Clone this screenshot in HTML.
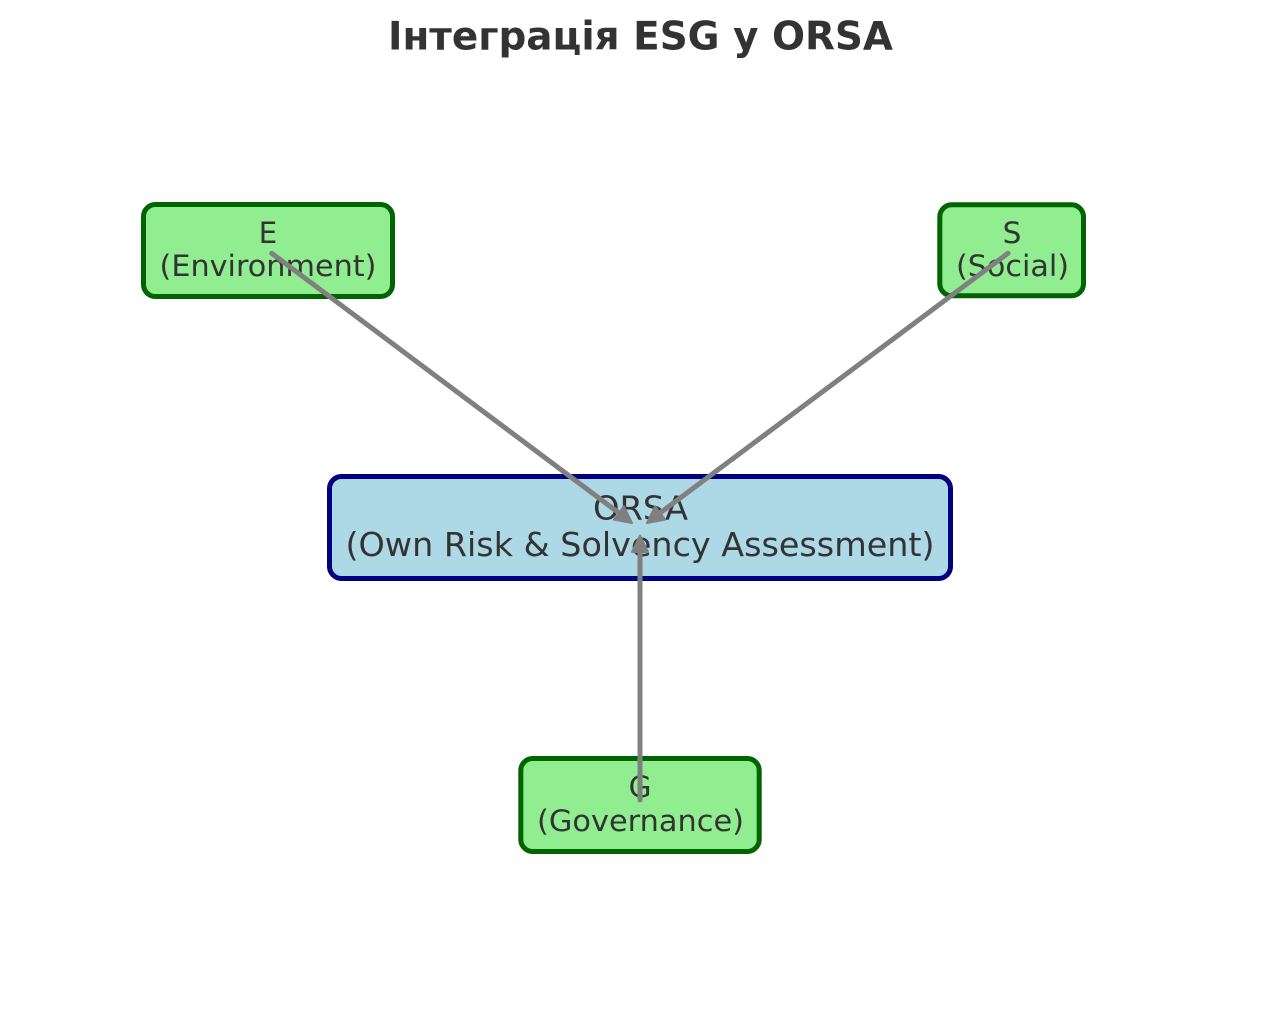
<!DOCTYPE html>
<html>
<head>
<meta charset="utf-8">
<style>
html,body{margin:0;padding:0;background:#ffffff;}
svg{display:block;}
text{font-family:"DejaVu Sans","Liberation Sans",sans-serif;fill:#333333;}
</style>
</head>
<body>
<svg width="1280" height="1010" viewBox="0 0 1280 1010" xmlns="http://www.w3.org/2000/svg">
  <rect x="0" y="0" width="1280" height="1010" fill="#ffffff"/>

  <!-- Title -->
  <text x="640.5" y="49.5" text-anchor="middle" font-size="39" font-weight="bold" textLength="505" lengthAdjust="spacingAndGlyphs">Інтеграція ESG у ORSA</text>

  <!-- E box -->
  <rect x="143.5" y="204.5" width="249" height="92" rx="12" ry="12" fill="#90EE90" stroke="#006400" stroke-width="5"/>
  <text x="268" y="243" text-anchor="middle" font-size="29.5">E</text>
  <text x="268" y="276" text-anchor="middle" font-size="29.5" textLength="217" lengthAdjust="spacingAndGlyphs">(Environment)</text>

  <!-- S box -->
  <rect x="939.8" y="204.8" width="143.7" height="91" rx="12" ry="12" fill="#90EE90" stroke="#006400" stroke-width="5"/>
  <text x="1012" y="243" text-anchor="middle" font-size="29.5">S</text>
  <text x="1012.5" y="276" text-anchor="middle" font-size="29.5" textLength="113" lengthAdjust="spacingAndGlyphs">(Social)</text>

  <!-- ORSA box -->
  <rect x="329.5" y="476.5" width="621" height="102" rx="12" ry="12" fill="#ADD8E6" stroke="#000080" stroke-width="5"/>
  <text x="640.5" y="519.5" text-anchor="middle" font-size="33" textLength="95" lengthAdjust="spacingAndGlyphs">ORSA</text>
  <text x="640" y="556" text-anchor="middle" font-size="33" textLength="589" lengthAdjust="spacingAndGlyphs">(Own Risk &amp; Solvency Assessment)</text>

  <!-- G box -->
  <rect x="520.8" y="758.5" width="238.4" height="93" rx="12" ry="12" fill="#90EE90" stroke="#006400" stroke-width="5"/>
  <text x="640" y="797" text-anchor="middle" font-size="29.5">G</text>
  <text x="640.5" y="831" text-anchor="middle" font-size="29.5" textLength="207" lengthAdjust="spacingAndGlyphs">(Governance)</text>

  <!-- Arrows -->
  <g stroke="#808080" stroke-width="5" stroke-linecap="round" fill="none">
    <line x1="271.7" y1="253.3" x2="620" y2="513.8"/>
    <line x1="1008" y1="253.3" x2="659" y2="513.8"/>
    <line x1="640" y1="800" x2="640" y2="549"/>
  </g>
  <g fill="#808080" stroke="#808080" stroke-width="2" stroke-linejoin="round">
    <polygon points="632,523 614,519.6 623.8,506.3"/>
    <polygon points="647,523 665,519.6 655.2,506.3"/>
    <polygon points="640,535.5 632,552 648,552"/>
  </g>
</svg>
</body>
</html>
